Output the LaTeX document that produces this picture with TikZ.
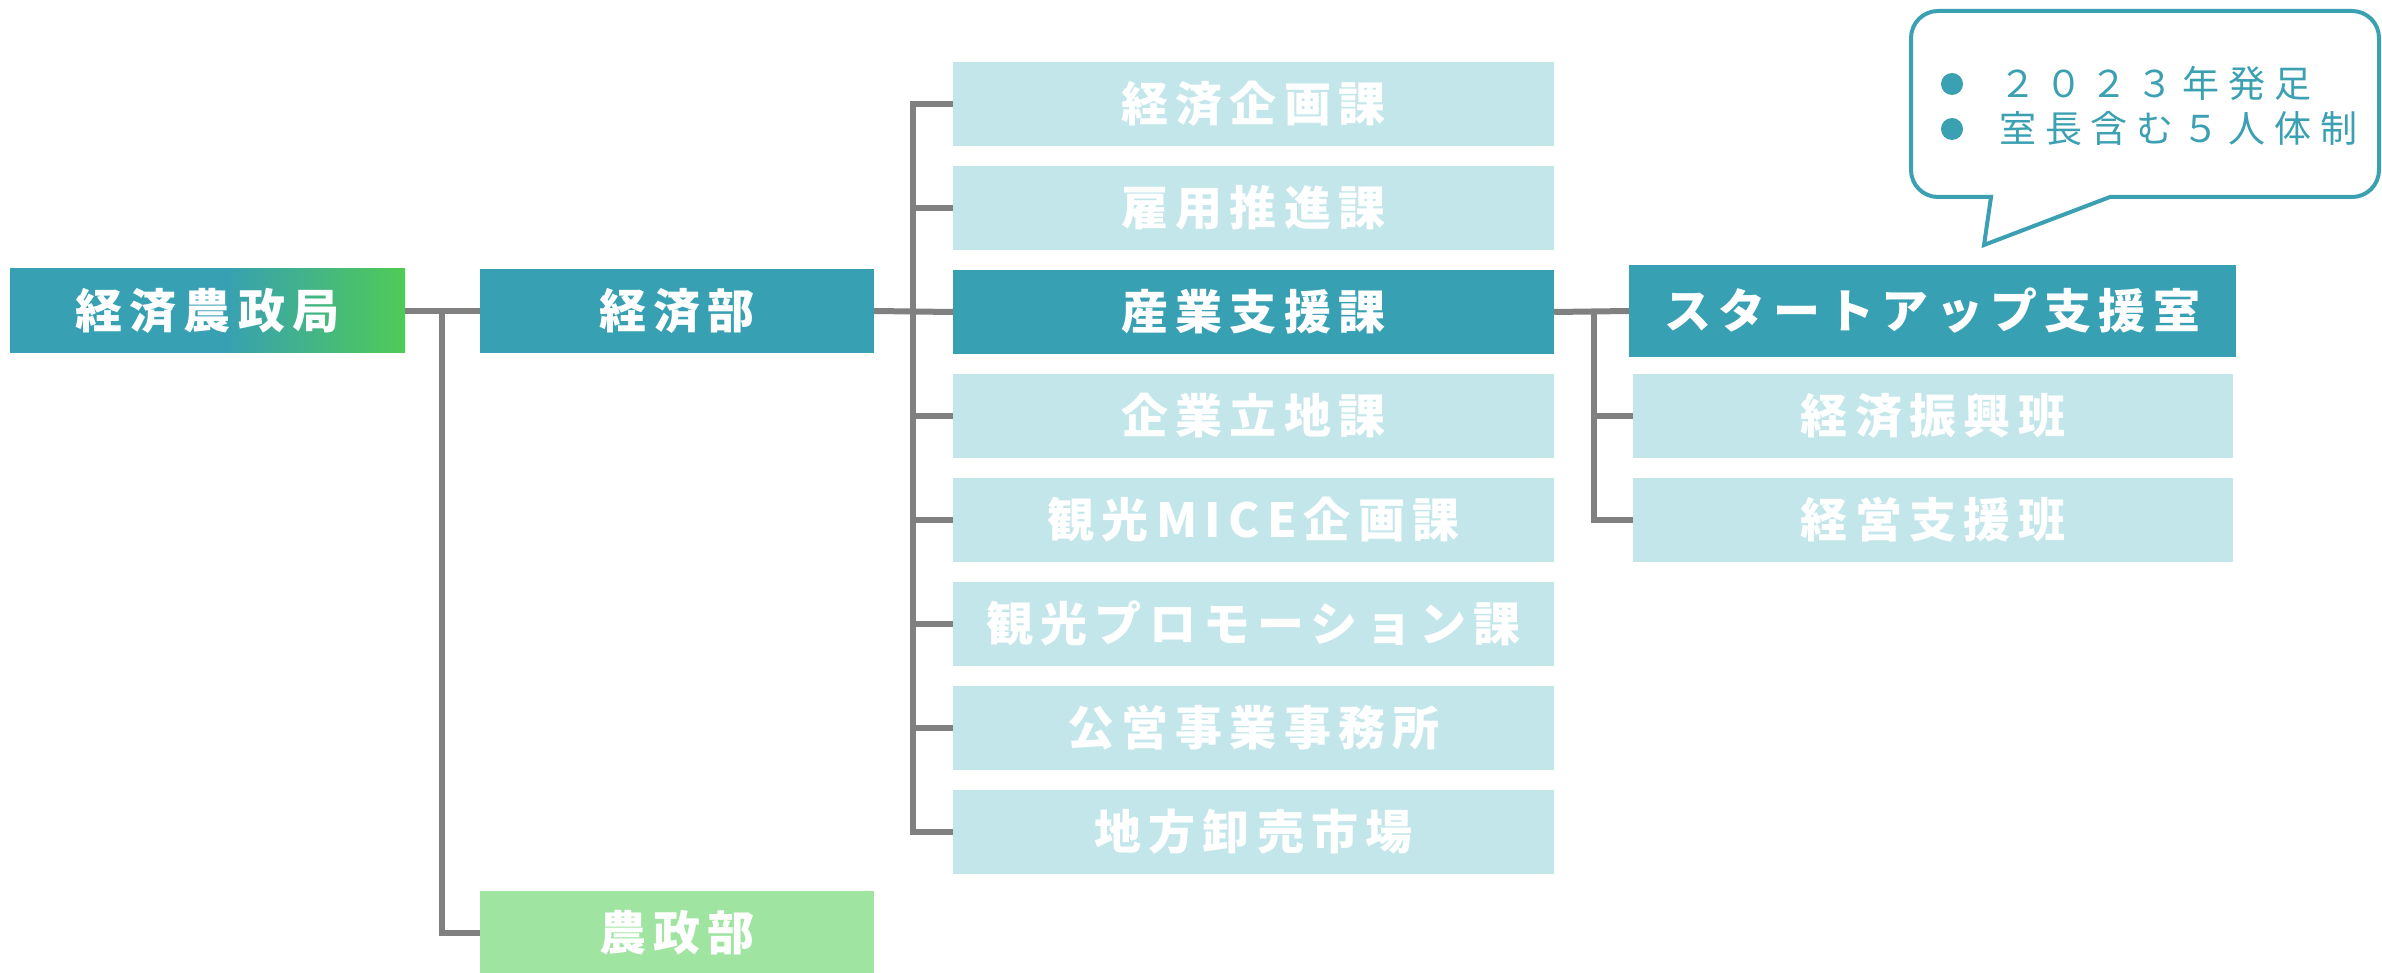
\documentclass[tikz,border=0pt]{standalone}
\usepackage{fontspec}
\newfontfamily\jp[LetterSpace=15.5]{Noto Sans CJK JP}
\newfontfamily\jpc[LetterSpace=24]{Noto Sans CJK JP}
\definecolor{dteal}{HTML}{37A0B3}
\definecolor{lteal}{HTML}{C3E6EB}
\definecolor{kgreen}{HTML}{4FCB56}
\definecolor{ngreen}{HTML}{9FE4A0}
\definecolor{lgray}{HTML}{808080}
\definecolor{cteal}{HTML}{3AA0B2}
\pgfdeclarehorizontalshading{kyokushade}{100bp}{color(0bp)=(dteal); color(25bp)=(dteal); color(52bp)=(dteal); color(75bp)=(kgreen); color(100bp)=(kgreen)}
\tikzset{
  box/.style={inner sep=0pt, minimum height=84pt, text=white,
    font=\jp\bfseries\fontsize{47}{51}\selectfont, text height=41pt, text depth=6pt},
  darkbox/.style={box, fill=dteal},
  lightbox/.style={box, fill=lteal},
  secbox/.style={lightbox, minimum width=601pt},
  conn/.style={draw=lgray, line width=6pt},
  bubble/.style={draw=cteal, line width=4pt, fill=white},
  ctext/.style={inner sep=0pt, anchor=west, text=cteal,
    font=\jpc\fontsize{37}{41}\selectfont, text height=32pt, text depth=5pt},
  dot/.style={fill=cteal, circle, inner sep=0pt, minimum size=22pt}
}
\begin{document}
\begin{tikzpicture}[x=1pt,y=-1pt]
\useasboundingbox (0,0) rectangle (2382,973);
% top level
\node[box, shading=kyokushade, shading angle=0, minimum width=395pt] (kyoku) at (207.5,311) {経済農政局};
\node[darkbox, minimum width=394pt] (keizai) at (677,311) {経済部};
\node[box, fill=ngreen, minimum width=394pt] (nosei) at (677,933) {農政部};
% sections
\node[secbox] (s0) at (1253.5,104) {経済企画課};
\node[secbox] (s1) at (1253.5,208) {雇用推進課};
\node[secbox, fill=dteal] (s2) at (1253.5,312) {産業支援課};
\node[secbox] (s3) at (1253.5,416) {企業立地課};
\node[secbox] (s4) at (1253.5,520) {観光MICE企画課};
\node[secbox] (s5) at (1253.5,624) {観光プロモーション課};
\node[secbox] (s6) at (1253.5,728) {公営事業事務所};
\node[secbox] (s7) at (1253.5,832) {地方卸売市場};
% right
\node[darkbox, minimum width=607pt, minimum height=92pt] (su) at (1932.5,311) {スタートアップ支援室};
\node[lightbox, minimum width=600pt] (h1) at (1933,416) {経済振興班};
\node[lightbox, minimum width=600pt] (h2) at (1933,520) {経営支援班};
% connectors
\coordinate (j1) at (442,311);
\coordinate (j2) at (913,311);
\coordinate (j3) at (1594,311);
\draw[conn] (kyoku.east) -- (keizai.west);
\draw[conn] (j1) |- (nosei.west);
\draw[conn] (keizai.east) -- (s2.west);
\draw[conn] (s0.west) -| (j2) |- (s7.west);
\draw[conn] (j2 |- s1.west) -- (s1.west);
\draw[conn] (j2 |- s3.west) -- (s3.west);
\draw[conn] (j2 |- s4.west) -- (s4.west);
\draw[conn] (j2 |- s5.west) -- (s5.west);
\draw[conn] (j2 |- s6.west) -- (s6.west);
\draw[conn] (s2.east) -- (su.west);
\draw[conn] (j3) |- (h2.west);
\draw[conn] (j3 |- h1.west) -- (h1.west);
% callout
\draw[bubble] (2110,197) -- (1984,245) -- (1991,197) -- (1938,197)
  arc[start angle=90, end angle=180, radius=27] -- (1911,38)
  arc[start angle=180, end angle=270, radius=27] -- (2352,11)
  arc[start angle=270, end angle=360, radius=27] -- (2379,170)
  arc[start angle=0, end angle=90, radius=27] -- cycle;
\node[dot] (d1) at (1952,84) {};
\node[dot] (d2) at (1952,129) {};
\node[ctext] (t1) at (1999,84) {２０２３年発足};
\node[ctext] (t2) at (1999,129) {室長含む５人体制};
\end{tikzpicture}
\end{document}
